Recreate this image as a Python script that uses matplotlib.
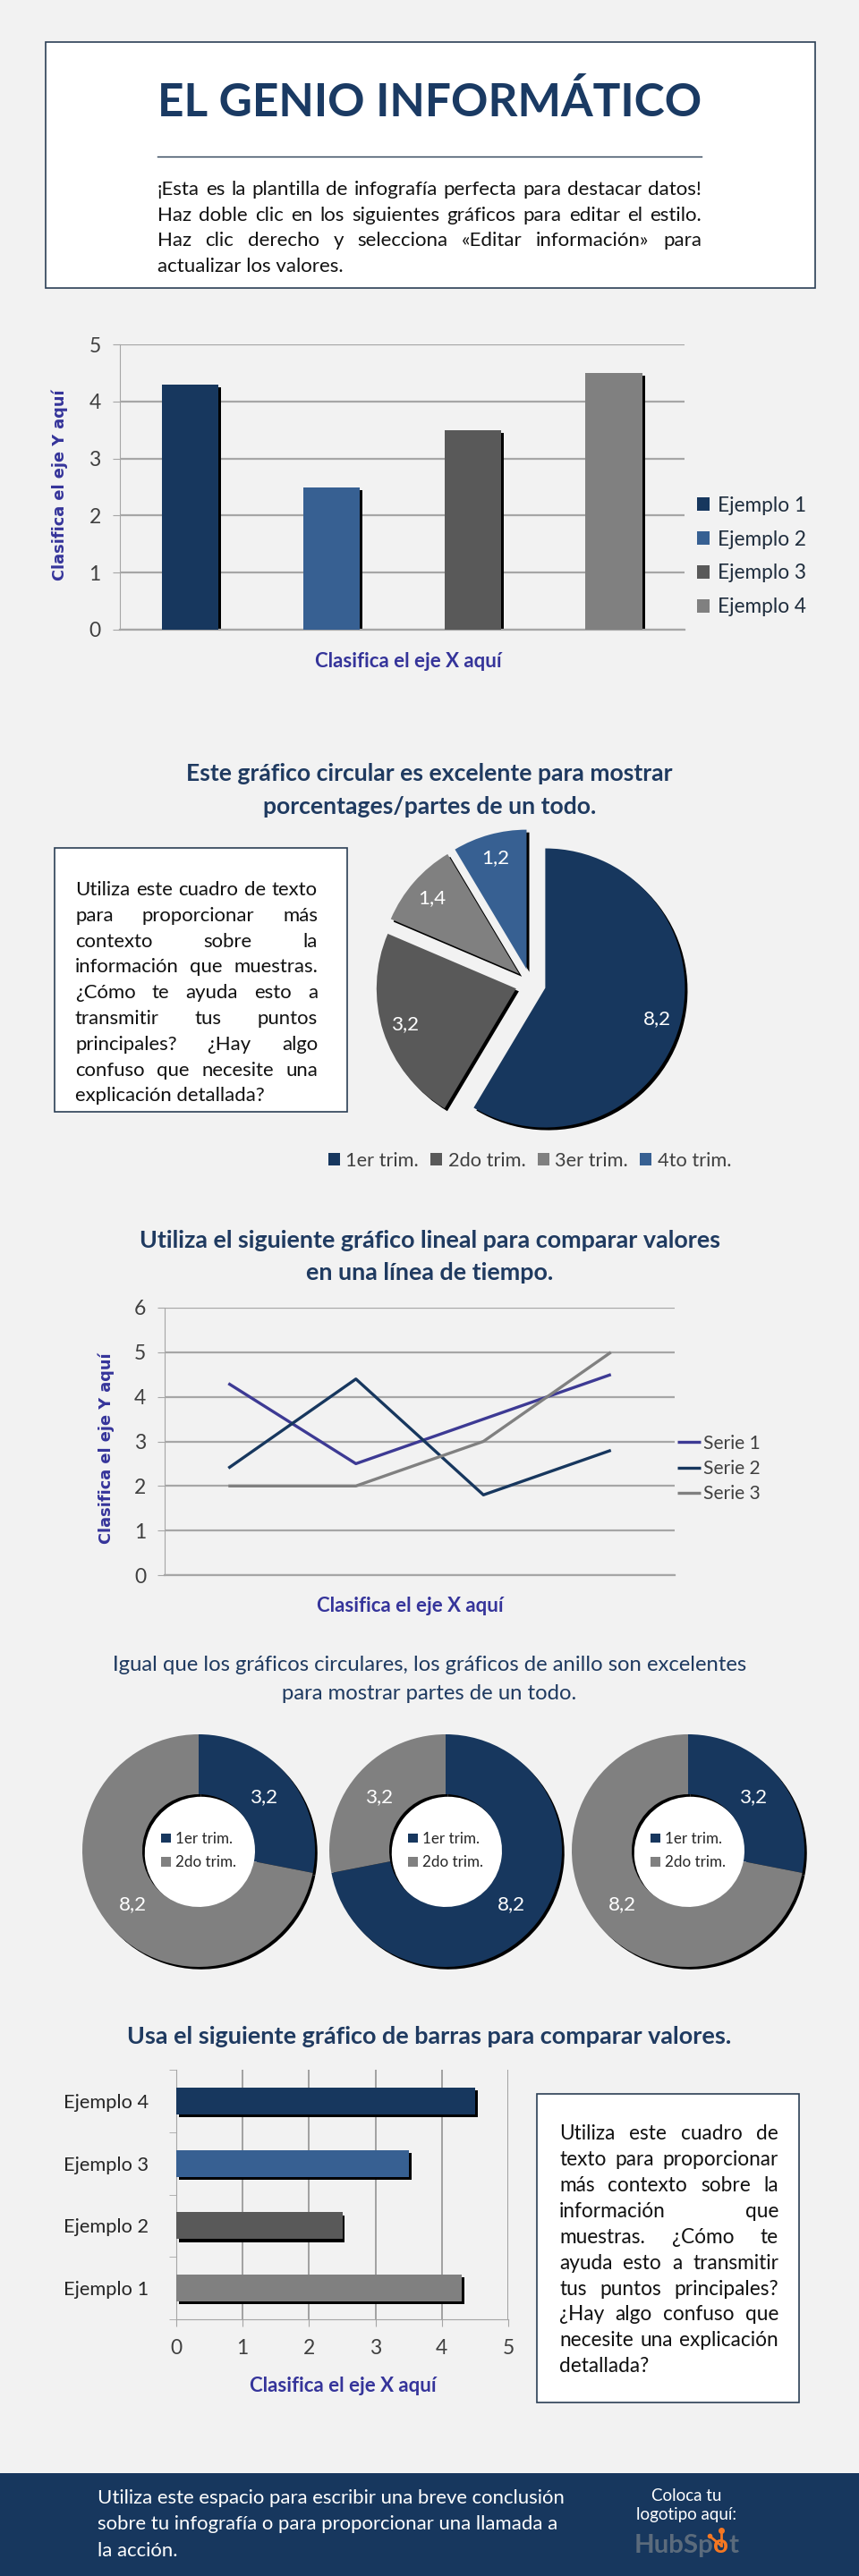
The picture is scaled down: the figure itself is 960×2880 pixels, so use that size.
import matplotlib
matplotlib.use('Agg')
import matplotlib.pyplot as plt
from matplotlib.patches import Rectangle, Circle
import numpy as np

plt.rcParams['font.family'] = ['Lato', 'DejaVu Sans']

# --- Colours ---
BG = '#f2f2f2'
NAVY = '#17375e'
BLUE = '#376092'
DGRAY = '#595959'
GRAY = '#808080'
TITLE = '#1f3a60'
AXLAB = '#35349a'
GRID = '#a6a6a6'
TXT = '#404040'
S1 = '#3d3a94'

# --- Data ---
col_cats = ['Ejemplo 1', 'Ejemplo 2', 'Ejemplo 3', 'Ejemplo 4']
col_vals = [4.3, 2.5, 3.5, 4.5]
col_colors = [NAVY, BLUE, DGRAY, GRAY]

pie_labels = ['1er trim.', '2do trim.', '3er trim.', '4to trim.']
pie_vals = [8.2, 3.2, 1.4, 1.2]
pie_colors = [NAVY, DGRAY, GRAY, BLUE]

line_names = ['Serie 1', 'Serie 2', 'Serie 3']
serie1 = [4.3, 2.5, 3.5, 4.5]
serie2 = [2.4, 4.4, 1.8, 2.8]
serie3 = [2.0, 2.0, 3.0, 5.0]
line_colors = [S1, NAVY, GRAY]

ring_labels = ['1er trim.', '2do trim.']
ring_vals = [[3.2, 8.2], [8.2, 3.2], [3.2, 8.2]]
ring_colors = [NAVY, GRAY]

hbar_cats = ['Ejemplo 1', 'Ejemplo 2', 'Ejemplo 3', 'Ejemplo 4']
hbar_vals = [4.3, 2.5, 3.5, 4.5]
hbar_colors = [GRAY, DGRAY, BLUE, NAVY]

header_lines = [
    '¡Esta es la plantilla de infografía perfecta para destacar datos!',
    'Haz doble clic en los siguientes gráficos para editar el estilo.',
    'Haz clic derecho y selecciona «Editar información» para',
    'actualizar los valores.',
]
box1_lines = [
    'Utiliza este cuadro de texto',
    'para proporcionar más',
    'contexto sobre la',
    'información que muestras.',
    '¿Cómo te ayuda esto a',
    'transmitir tus puntos',
    'principales? ¿Hay algo',
    'confuso que necesite una',
    'explicación detallada?',
]
box2_lines = [
    'Utiliza este cuadro de',
    'texto para proporcionar',
    'más contexto sobre la',
    'información que',
    'muestras. ¿Cómo te',
    'ayuda esto a transmitir',
    'tus puntos principales?',
    '¿Hay algo confuso que',
    'necesite una explicación',
    'detallada?',
]
footer_lines = [
    'Utiliza este espacio para escribir una breve conclusión',
    'sobre tu infografía o para proporcionar una llamada a',
    'la acción.',
]

# --- Page ---
fig = plt.figure(figsize=(9.6, 28.8), dpi=100)
fig.patch.set_facecolor(BG)
page = fig.add_axes([0, 0, 1, 1], zorder=0)
page.set_xlim(0, 960)
page.set_ylim(2880, 0)
page.axis('off')
R = fig.canvas.get_renderer()


def px_axes(x0, y0, x1, y1):
    ax = fig.add_axes([x0 / 960, 1 - y1 / 2880, (x1 - x0) / 960, (y1 - y0) / 2880], zorder=2)
    ax.patch.set_alpha(0)
    return ax


def text_w(s, size, **kw):
    t = page.text(0, 0, s, fontsize=size, **kw)
    w = t.get_window_extent(renderer=R).width
    t.remove()
    return w


def fit_size(s, width, **kw):
    return 20 * width / text_w(s, 20, **kw)


def paragraph(lines, x0, x1, y0, dy, color, justify=True, size=None, **kw):
    if size is None:
        longest = max(text_w(l, 20, **kw) for l in lines[:-1])
        size = 20 * (x1 - x0) / longest * 0.985
    off = 0.36 * size * 100 / 72
    for i, line in enumerate(lines):
        y = y0 + i * dy + off
        words = line.split(' ')
        if not justify or i == len(lines) - 1 or len(words) < 2:
            page.text(x0, y, line, ha='left', va='baseline', fontsize=size, color=color, **kw)
            continue
        ws = [text_w(w, size, **kw) for w in words]
        gap = (x1 - x0 - sum(ws)) / (len(words) - 1)
        x = x0
        for w, wd in zip(words, ws):
            page.text(x, y, w, ha='left', va='baseline', fontsize=size, color=color, **kw)
            x += wd + gap
    return size


def centered_title(lines, ys, width, weight='bold'):
    s = fit_size(lines[0], width, weight=weight)
    for line, y in zip(lines, ys):
        page.text(480, y, line, ha='center', va='center', fontsize=s, color=TITLE, weight=weight)


def fmt_for(vals):
    total = sum(vals)
    return lambda p: ('%.1f' % (p * total / 100)).replace('.', ',')


# font sizes taken from measured text widths in the reference
TICK = 16.5
LEG1 = fit_size('Ejemplo 1', 99)
LEGP = fit_size('1er trim.', 82)
LEGL = fit_size('Serie 1', 64)
LEGD = fit_size('1er trim.', 64)
HLAB = fit_size('Ejemplo 4', 95)
DLAB = fit_size('8,2', 31)

# --- Header ---
page.add_patch(Rectangle((51, 47), 860, 275, fc='white', ec='#2b3f55', lw=1.2))
s = fit_size('EL GENIO INFORMÁTICO', 608, weight='bold')
page.text(480, 115, 'EL GENIO INFORMÁTICO', ha='center', va='center', fontsize=s,
          color='#1a3a63', weight='bold')
page.plot([176, 784], [175, 175], color='#2b3f55', lw=1)
paragraph(header_lines, 176, 784, 210, 28.5, '#111111')

# --- Column chart ---
ax1 = px_axes(133.5, 385, 765, 704)
x = np.arange(len(col_cats))
for i in range(len(col_cats)):
    ax1.bar(x[i] + 0.02, col_vals[i] - 0.05, width=0.4, color='black', zorder=2)
    ax1.bar(x[i], col_vals[i], width=0.4, color=col_colors[i], label=col_cats[i], zorder=3)
ax1.set_xlim(-0.5, 3.5)
ax1.set_ylim(0, 5)
ax1.set_yticks(range(6))
ax1.set_xticks([])
ax1.yaxis.grid(True, color=GRID, lw=1.6)
ax1.set_axisbelow(True)
for sp in ['top', 'right']:
    ax1.spines[sp].set_visible(False)
ax1.spines['left'].set_color(GRID)
ax1.spines['bottom'].set_color(GRID)
ax1.spines['bottom'].set_linewidth(1.6)
ax1.tick_params(axis='y', length=6, color=GRID, labelsize=TICK, labelcolor=TXT, pad=9)
ax1.legend(loc='center left', bbox_to_anchor=(779, 622), bbox_transform=page.transData,
           frameon=False, fontsize=LEG1, handlelength=0.6, handleheight=0.6, handletextpad=0.4,
           labelspacing=0.75, borderpad=0, borderaxespad=0, labelcolor='#1f2d3d')
ys = fit_size('Clasifica el eje Y aquí', 214, family='DejaVu Sans', weight='bold')
page.text(67, 542, 'Clasifica el eje Y aquí', rotation=90, ha='center', va='center',
          fontsize=ys, family='DejaVu Sans', weight='bold', color=AXLAB)
xs_ = fit_size('Clasifica el eje X aquí', 208, weight='bold')
page.text(456, 739, 'Clasifica el eje X aquí', ha='center', va='center', fontsize=xs_,
          weight='bold', color=AXLAB)

# --- Pie chart ---
centered_title(['Este gráfico circular es excelente para mostrar',
                'porcentages/partes de un todo.'], [865, 902], 542)
page.add_patch(Rectangle((61, 948), 327, 295, fc='white', ec='#2b3f55', lw=1.2))
paragraph(box1_lines, 84, 355, 993, 28.8, '#111111')

axp = px_axes(403, 910, 783, 1290)
rp = 156 / 190
expl = [17 / 190] * len(pie_vals)
axp.pie(pie_vals, radius=rp, explode=expl, startangle=90, counterclock=False,
        colors=['black'] * len(pie_vals), center=(0.016, -0.016))
wedges, _, autot = axp.pie(pie_vals, radius=rp, explode=expl, startangle=90, counterclock=False,
                           colors=pie_colors, autopct=fmt_for(pie_vals), pctdistance=0.83,
                           textprops=dict(color='white', fontsize=DLAB))
axp.set_xlim(-1, 1)
axp.set_ylim(-1, 1)
axp.legend(wedges, pie_labels, loc='center', bbox_to_anchor=(592, 1298),
           bbox_transform=page.transData, ncol=4, frameon=False, fontsize=LEGP,
           handlelength=0.6, handleheight=0.6, handletextpad=0.3, columnspacing=0.6,
           borderpad=0, borderaxespad=0, labelcolor=TXT)

# --- Line chart ---
centered_title(['Utiliza el siguiente gráfico lineal para comparar valores',
                'en una línea de tiempo.'], [1387, 1423], 651)
axl = px_axes(184, 1462, 754, 1761)
xl = np.arange(len(serie1))
for vals, name, c in zip([serie1, serie2, serie3], line_names, line_colors):
    axl.plot(xl, vals, color=c, lw=2.4, label=name, solid_capstyle='butt')
axl.set_xlim(-0.5, 3.5)
axl.set_ylim(0, 6)
axl.set_yticks(range(7))
axl.set_xticks([])
axl.yaxis.grid(True, color=GRID, lw=1.6)
axl.set_axisbelow(True)
for sp in ['top', 'right']:
    axl.spines[sp].set_visible(False)
axl.spines['left'].set_color(GRID)
axl.spines['bottom'].set_color(GRID)
axl.spines['bottom'].set_linewidth(1.6)
axl.tick_params(axis='y', length=6, color=GRID, labelsize=TICK, labelcolor=TXT, pad=9)
axl.legend(loc='center left', bbox_to_anchor=(757, 1642), bbox_transform=page.transData,
           frameon=False, fontsize=LEGL, handlelength=1.25, handletextpad=0.15,
           labelspacing=0.4, borderpad=0, borderaxespad=0, labelcolor=TXT)
page.text(119, 1619, 'Clasifica el eje Y aquí', rotation=90, ha='center', va='center',
          fontsize=ys, family='DejaVu Sans', weight='bold', color=AXLAB)
page.text(458, 1795, 'Clasifica el eje X aquí', ha='center', va='center', fontsize=xs_,
          weight='bold', color=AXLAB)

# --- Doughnuts ---
centered_title(['Igual que los gráficos circulares, los gráficos de anillo son excelentes',
                'para mostrar partes de un todo.'], [1862, 1893], 711, weight='normal')
ring_cx = [222, 498, 769]
for k in range(len(ring_vals)):
    cx = ring_cx[k]
    axd = px_axes(cx - 138, 2069 - 138, cx + 138, 2069 + 138)
    rr = 130 / 138
    ww = (130 - 63) / 138
    axd.add_patch(Circle((0, 0), rr - ww, color='white'))
    axd.pie(ring_vals[k], radius=rr, startangle=90, counterclock=False,
            colors=['black', 'black'], center=(0.02, -0.02), wedgeprops=dict(width=ww))
    wd, _, _ = axd.pie(ring_vals[k], radius=rr, startangle=90, counterclock=False,
                       colors=ring_colors, wedgeprops=dict(width=ww),
                       autopct=fmt_for(ring_vals[k]), pctdistance=0.73,
                       textprops=dict(color='white', fontsize=DLAB))
    axd.set_xlim(-1, 1)
    axd.set_ylim(-1, 1)
    axd.legend(wd, ring_labels, loc='center', frameon=False, fontsize=LEGD,
               handlelength=0.6, handleheight=0.6, handletextpad=0.3, labelspacing=0.6,
               labelcolor='#262626')

# --- Horizontal bars ---
centered_title(['Usa el siguiente gráfico de barras para comparar valores.'], [2277], 675)
axh = px_axes(197, 2314, 568, 2593)
yh = np.arange(len(hbar_cats))
for i in range(len(hbar_cats)):
    axh.barh(yh[i] - 0.045, hbar_vals[i], left=0.04, height=0.43, color='black', zorder=2)
    axh.barh(yh[i], hbar_vals[i], height=0.43, color=hbar_colors[i], zorder=3)
axh.set_xlim(0, 5)
axh.set_ylim(-0.5, 3.5)
axh.set_yticks(yh)
axh.set_yticklabels(hbar_cats)
axh.set_yticks(np.arange(-0.5, 4, 1), minor=True)
axh.set_xticks(range(6))
axh.xaxis.grid(True, color='#8c8c8c', lw=1.1)
axh.set_axisbelow(True)
for sp in ['top', 'right']:
    axh.spines[sp].set_visible(False)
axh.spines['left'].set_color(GRID)
axh.spines['bottom'].set_color(GRID)
axh.tick_params(axis='y', which='major', length=0, labelsize=HLAB, labelcolor='#262626', pad=22)
axh.tick_params(axis='y', which='minor', length=6, color=GRID)
axh.tick_params(axis='x', length=6, color=GRID, labelsize=TICK, labelcolor=TXT, pad=10)
page.text(383, 2668, 'Clasifica el eje X aquí', ha='center', va='center', fontsize=xs_,
          weight='bold', color=AXLAB)
page.add_patch(Rectangle((600, 2341), 293, 345, fc='white', ec='#2b3f55', lw=1.2))
paragraph(box2_lines, 625, 870, 2384, 28.9, '#111111')

# --- Footer ---
page.add_patch(Rectangle((0, 2765), 960, 115, fc=NAVY, ec='none'))
fs = fit_size(footer_lines[0], 525)
for i, line in enumerate(footer_lines):
    page.text(109, 2793 + i * 29.5, line, ha='left', va='center', fontsize=fs, color='white')
ls = fit_size('logotipo aquí:', 112)
page.text(767, 2790, 'Coloca tu', ha='center', va='center', fontsize=ls, color='white')
page.text(767, 2811, 'logotipo aquí:', ha='center', va='center', fontsize=ls, color='white')
hs = fit_size('HubSpot', 117, weight='bold')
parts = ['HubSp', 'o', 't']
pw = [text_w(p, hs, weight='bold') for p in parts]
px = 767 - sum(pw) / 2
for p, w, c in zip(parts, pw, ['#5b6b7c', '#f57722', '#5b6b7c']):
    page.text(px, 2846, p, ha='left', va='center', fontsize=hs, weight='bold', color=c)
    px += w
ox = 767 - sum(pw) / 2 + pw[0] + pw[1] / 2
page.plot([ox, ox], [2846, 2830], color='#f57722', lw=2)
page.plot([ox], [2829], 'o', color='#f57722', ms=4)
page.plot([ox, ox - 12], [2846, 2836], color='#f57722', lw=2)
page.plot([ox - 13], [2835], 'o', color='#f57722', ms=3)

fig.savefig('out.png', dpi=100, facecolor=BG)
